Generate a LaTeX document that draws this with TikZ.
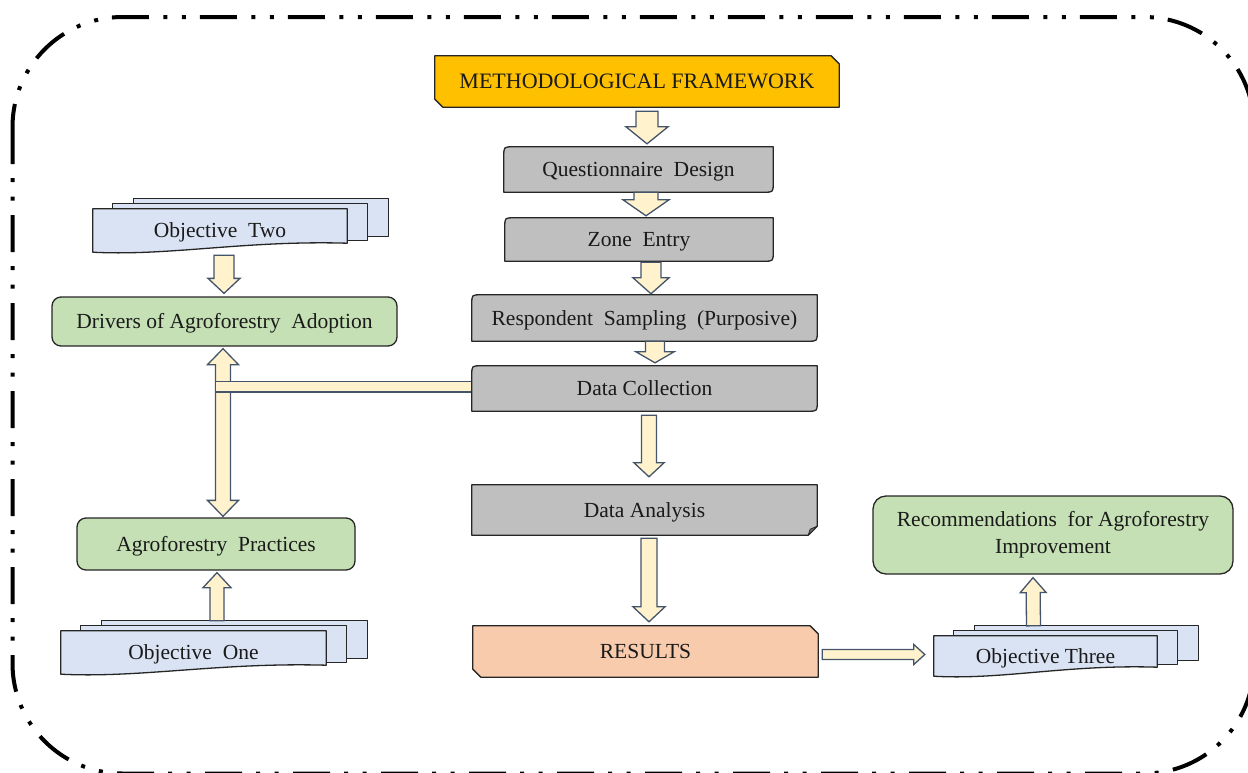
\documentclass[tikz,border=0pt]{standalone}
\usepackage{fontspec}
\setmainfont{Liberation Serif}
\usetikzlibrary{calc,backgrounds}
\definecolor{gold}{HTML}{FFC000}
\definecolor{boxgray}{HTML}{BFBFBF}
\definecolor{boxgreen}{HTML}{C5E0B4}
\definecolor{boxblue}{HTML}{DAE3F3}
\definecolor{boxpeach}{HTML}{F8CBAD}
\definecolor{afill}{HTML}{FFF2CC}
\definecolor{adraw}{HTML}{44546A}
\definecolor{outl}{HTML}{262626}
\definecolor{txt}{HTML}{1A1A1A}
\tikzset{
  lbl/.style={inner sep=0pt, font=\fontsize{21.5}{27}\selectfont, text=txt, align=center},
  low/.style={text height=18.5pt, text depth=4pt},
  shp/.style={draw=outl, line width=1.3pt, line join=round},
  rbox/.style={lbl, shp, fill=boxgreen, rounded corners=9pt},
  blk/.style={fill=afill, draw=adraw, line width=1.3pt, line join=miter},
  border/.style={line width=4pt, dash pattern=on 37pt off 14pt on 4pt off 14.5pt on 4pt off 14.5pt, rounded corners=110pt}
}
% round diagonal corner box
\newcommand\rdiag[2]{%
  \path[shp, fill=#2] ($(#1.north west)+(0,9)$) .. controls (#1.north west) .. ($(#1.north west)+(9,0)$)
    -- (#1.north east) -- ($(#1.south east)+(0,-9)$) .. controls (#1.south east) .. ($(#1.south east)+(-9,0)$)
    -- (#1.south west) -- cycle;}
% snip diagonal corner box
\newcommand\snip[2]{%
  \path[shp, fill=#2] (#1.north west) -- ($(#1.north east)+(-8,0)$) -- ($(#1.north east)+(0,8)$)
    -- (#1.south east) -- ($(#1.south west)+(8,0)$) -- ($(#1.south west)+(0,-8)$) -- cycle;}
% folded corner box
\newcommand\foldbox[2]{%
  \path[shp, fill=#2] (#1.north west) -- (#1.north east) -- ($(#1.south east)+(0,-9)$)
    -- ($(#1.south east)+(-9,0)$) -- (#1.south west) -- cycle;
  \path[shp, fill=#2!60!black, line width=0.8pt] ($(#1.south east)+(0,-9)$) -- ($(#1.south east)+(-7,-6)$) -- ($(#1.south east)+(-9,0)$) -- cycle;}
% stack of documents
\newcommand\docstack[2]{%
  \path[shp, fill=#2] ($(#1.north west)+(41,-10)$) rectangle ($(#1.south east)+(41,-16)$);
  \path[shp, fill=#2] ($(#1.north west)+(20,-5)$) rectangle ($(#1.south east)+(20,-12)$);
  \path[shp, fill=#2] (#1.north west) -- (#1.north east) -- ($(#1.south east)+(0,-9)$)
    .. controls ($(#1.south west)!0.6!(#1.south east)+(0,-12)$) and ($(#1.south west)!0.3!(#1.south east)+(0,4)$) .. (#1.south west) -- cycle;}
% block arrow: start, end, shaft half width, head half width, head length
\newcommand\barr[5]{%
  \coordinate (baS) at #1; \coordinate (baE) at #2;
  \coordinate (baH) at ($(baE)!#5!(baS)$);
  \path[blk] ($(baS)!#3!90:(baE)$) -- ($(baH)!#3!90:(baE)$) -- ($(baH)!#4!90:(baE)$) -- (baE)
    -- ($(baH)!#4!-90:(baE)$) -- ($(baH)!#3!-90:(baE)$) -- ($(baS)!#3!-90:(baE)$) -- cycle;}
% double block arrow
\newcommand\dbarr[5]{%
  \coordinate (baS) at #1; \coordinate (baE) at #2;
  \coordinate (baA) at ($(baS)!#5!(baE)$); \coordinate (baB) at ($(baE)!#5!(baS)$);
  \path[blk] (baS) -- ($(baA)!#4!90:(baE)$) -- ($(baA)!#3!90:(baE)$) -- ($(baB)!#3!90:(baE)$)
    -- ($(baB)!#4!90:(baE)$) -- (baE) -- ($(baB)!#4!-90:(baE)$) -- ($(baB)!#3!-90:(baE)$)
    -- ($(baA)!#3!-90:(baE)$) -- ($(baA)!#4!-90:(baE)$) -- cycle;}
\begin{document}
\begin{tikzpicture}[x=1pt, y=-1pt]
\useasboundingbox (0,0) rectangle (1248,772);

% central column
\node[lbl, low, minimum width=404, minimum height=51, font=\fontsize{22}{27}\selectfont] (mf) at (637,81.5) {METHODOLOGICAL FRAMEWORK};
\node[lbl, low, minimum width=269, minimum height=45] (qd) at (638.5,169.5) {Questionnaire\ \ Design};
\node[lbl, low, minimum width=268, minimum height=43] (ze) at (639,239.5) {Zone\ \ Entry};
\node[lbl, low, minimum width=345, minimum height=46] (rs) at (644.5,318) {Respondent\ \ Sampling\ \ (Purposive)};
\node[lbl, low, minimum width=345, minimum height=45] (dc) at (644.5,388.5) {Data Collection};
\node[lbl, low, minimum width=345, minimum height=50] (da) at (644.5,510) {Data Analysis};
\node[lbl, low, minimum width=345, minimum height=51] (res) at (645.5,651.5) {RESULTS};

% left column
\node[lbl, low, minimum width=254, minimum height=43] (obj2) at (220,230.5) {Objective\ \ Two};
\node[rbox, low, minimum width=345, minimum height=49] (drv) at (224.5,321.5) {Drivers of Agroforestry\ \ Adoption};
\node[rbox, low, minimum width=278, minimum height=52] (prac) at (216,544) {Agroforestry\ \ Practices};
\node[lbl, low, minimum width=265, minimum height=43] (obj1) at (193.5,652.5) {Objective\ \ One};

% right column
\node[rbox, minimum width=360, minimum height=78, rounded corners=13pt] (rec) at (1053,535) {Recommendations\ \ for Agroforestry\\Improvement};
\node[lbl, low, minimum width=223, minimum height=40] (obj3) at (1045.5,656) {Objective Three};

\begin{pgfonlayer}{background}
  \draw[border] (12.5,17) rectangle (1254,773.5);
  \dbarr{($(drv.south)+(-1.5,2)$)}{($(prac.north)+(7,-1)$)}{7.5pt}{15.5pt}{16pt}
  \path[blk] ($(drv.south)+(-9,35)$) rectangle ($(dc.west)+(0,3.5)$);
  \snip{mf}{gold}
  \rdiag{qd}{boxgray}
  \rdiag{ze}{boxgray}
  \rdiag{rs}{boxgray}
  \rdiag{dc}{boxgray}
  \foldbox{da}{boxgray}
  \snip{res}{boxpeach}
  \docstack{obj2}{boxblue}
  \docstack{obj1}{boxblue}
  \docstack{obj3}{boxblue}
\end{pgfonlayer}

% arrows
\barr{($(mf.south)+(10,4)$)}{($(qd.north)+(8.5,-3)$)}{11pt}{21pt}{17pt}
\barr{($(qd.south)+(7.5,0)$)}{($(ze.north)+(7,-2)$)}{12pt}{23pt}{16pt}
\barr{($(ze.south)+(12,1)$)}{($(rs.north)+(6.5,-1)$)}{10pt}{18pt}{16pt}
\barr{($(rs.south)+(10.5,0)$)}{($(dc.north)+(10.5,-3)$)}{9.5pt}{19pt}{11pt}
\barr{($(dc.south)+(4.5,4)$)}{($(da.north)+(4.5,-8)$)}{7.5pt}{15pt}{14pt}
\barr{($(da.south)+(4.5,3)$)}{($(res.north)+(3.5,-4)$)}{8pt}{16pt}{15pt}
\barr{($(res.east)+(4,3)$)}{($(obj3.west)+(-9,-1.5)$)}{5pt}{10pt}{11pt}
\barr{($(obj3.north)+(-12,-10)$)}{($(rec.south)+(-20,3)$)}{7pt}{13pt}{15pt}
\barr{($(obj2.south)+(4,3)$)}{($(drv.north)+(-0.5,-3)$)}{10pt}{16pt}{15pt}
\barr{($(obj1.north)+(23.5,-10)$)}{($(prac.south)+(1,2)$)}{7pt}{14pt}{15pt}
\end{tikzpicture}
\end{document}
